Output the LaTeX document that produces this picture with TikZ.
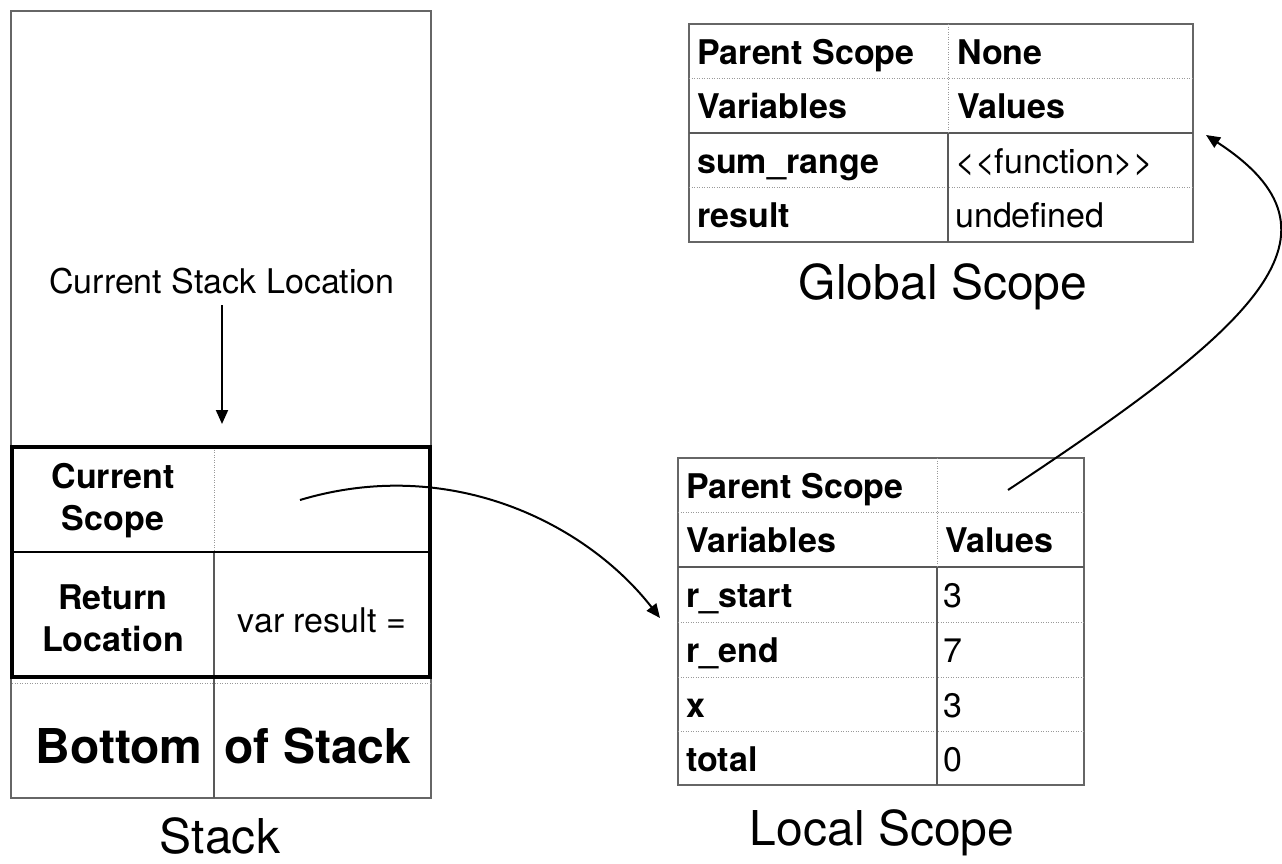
\documentclass[tikz,border=0pt]{standalone}
\usepackage{fontspec}
\setmainfont{TeX Gyre Heros}
\usetikzlibrary{arrows.meta}
\begin{document}
\begin{tikzpicture}[x=1pt,y=-1pt,
  frame/.style={draw=black!60,line width=1.3pt},
  solidrule/.style={draw=black!65,line width=1.3pt},
  dotrule/.style={draw=black!40,line width=1pt,dash pattern=on 1pt off 1.5pt},
  cellkey/.style={anchor=base west,font=\fontsize{34}{40}\selectfont\bfseries,inner sep=0pt},
  cellval/.style={anchor=base west,font=\fontsize{34}{40}\selectfont,inner sep=0pt},
  stackkey/.style={anchor=base,font=\fontsize{34}{42}\selectfont\bfseries,inner sep=0pt,align=center},
  bigcell/.style={anchor=base,font=\fontsize{48}{52}\selectfont\bfseries,inner sep=0pt},
  caption/.style={anchor=base,font=\fontsize{48}{52}\selectfont,inner sep=0pt},
  note/.style={anchor=base,font=\fontsize{34}{40}\selectfont,inner sep=0pt},
  pointer/.style={draw=black,line width=2pt,-{Triangle[length=14pt,width=12pt]}},
]
\useasboundingbox (0,0) rectangle (1282,863);

% ---------------- stack ----------------
\draw[frame] (11,11) rectangle (431,798);
\draw[dotrule] (214,447) -- (214,552);
\draw[solidrule] (214,552) -- (214,798);
\draw[dotrule] (12,683) -- (431,683);
\draw[draw=black,line width=1.3pt] (12,552) -- (430,552);
\draw[draw=black,line width=4.2pt] (12,447) rectangle (430,677);

\node[note] (curloc) at (222,293) {Current Stack Location};
\coordinate (curlocfoot) at (222,305);
\coordinate (framehead) at (222,424);
\draw[pointer] (curlocfoot) -- (framehead);

% multi-line cells: the base anchor sits on the last line
\node[stackkey] (curscope) at (113,530) {Current\\Scope};
\node[stackkey] (retloc) at (113,651) {Return\\Location};
\node[cellval,anchor=base] (retval) at (322,632) {var result =};
\node[bigcell] (bottom) at (119,763) {Bottom};
\node[bigcell] (ofstack) at (318,763) {of Stack};
\node[caption] (stacklbl) at (220,853) {Stack};

% ---------------- global scope ----------------
\draw[frame] (689,24) rectangle (1193,242);
\draw[dotrule] (689,78) -- (1193,78);
\draw[solidrule] (689,133) -- (1193,133);
\draw[dotrule] (689,187) -- (1193,187);
\draw[dotrule] (948,24) -- (948,133);
\draw[solidrule] (948,133) -- (948,242);

\node[cellkey] (gparent) at (697,64) {Parent Scope};
\node[cellkey] (gnone) at (957,64) {None};
\node[cellkey] (gvars) at (697,118.5) {Variables};
\node[cellkey] (gvals) at (957,118.5) {Values};
\node[cellkey] (gsum) at (697,173) {sum\_range};
\node[cellval] (gsumv) at (955,173) {<{}<function>{}>};
\node[cellkey] (gres) at (697,227.5) {result};
\node[cellval] (gresv) at (955,227.5) {undefined};
\node[caption] (globallbl) at (943,299) {Global Scope};

% ---------------- local scope ----------------
\draw[frame] (678,458) rectangle (1084,785);
\draw[dotrule] (678,512) -- (1084,512);
\draw[solidrule] (678,567) -- (1084,567);
\draw[dotrule] (678,622) -- (1084,622);
\draw[dotrule] (678,677) -- (1084,677);
\draw[dotrule] (678,731) -- (1084,731);
\draw[dotrule] (937,458) -- (937,567);
\draw[solidrule] (937,567) -- (937,785);

\node[cellkey] (lparent) at (686,498) {Parent Scope};
\node[cellkey] (lvars) at (686,552.5) {Variables};
\node[cellkey] (lvals) at (945,552.5) {Values};
\node[cellkey] (lstart) at (686,607.5) {r\_start};
\node[cellval] (lstartv) at (943,607.5) {3};
\node[cellkey] (lend) at (686,662.5) {r\_end};
\node[cellval] (lendv) at (943,662.5) {7};
\node[cellkey] (lx) at (686,717) {x};
\node[cellval] (lxv) at (943,717) {3};
\node[cellkey] (ltotal) at (686,771) {total};
\node[cellval] (ltotalv) at (943,771) {0};
\node[caption] (locallbl) at (882,845) {Local Scope};

% ---------------- scope pointers ----------------
\coordinate (scopeslot) at (300,500);
\coordinate (localentry) at (660,618);
\coordinate (parentslot) at (1008,490);
\coordinate (globalentry) at (1206,135);
\draw[pointer] (scopeslot) .. controls (450,455) and (586,523) .. (localentry);
\draw[pointer] (parentslot) .. controls (1257,325) and (1358,234) .. (globalentry);
\end{tikzpicture}
\end{document}
